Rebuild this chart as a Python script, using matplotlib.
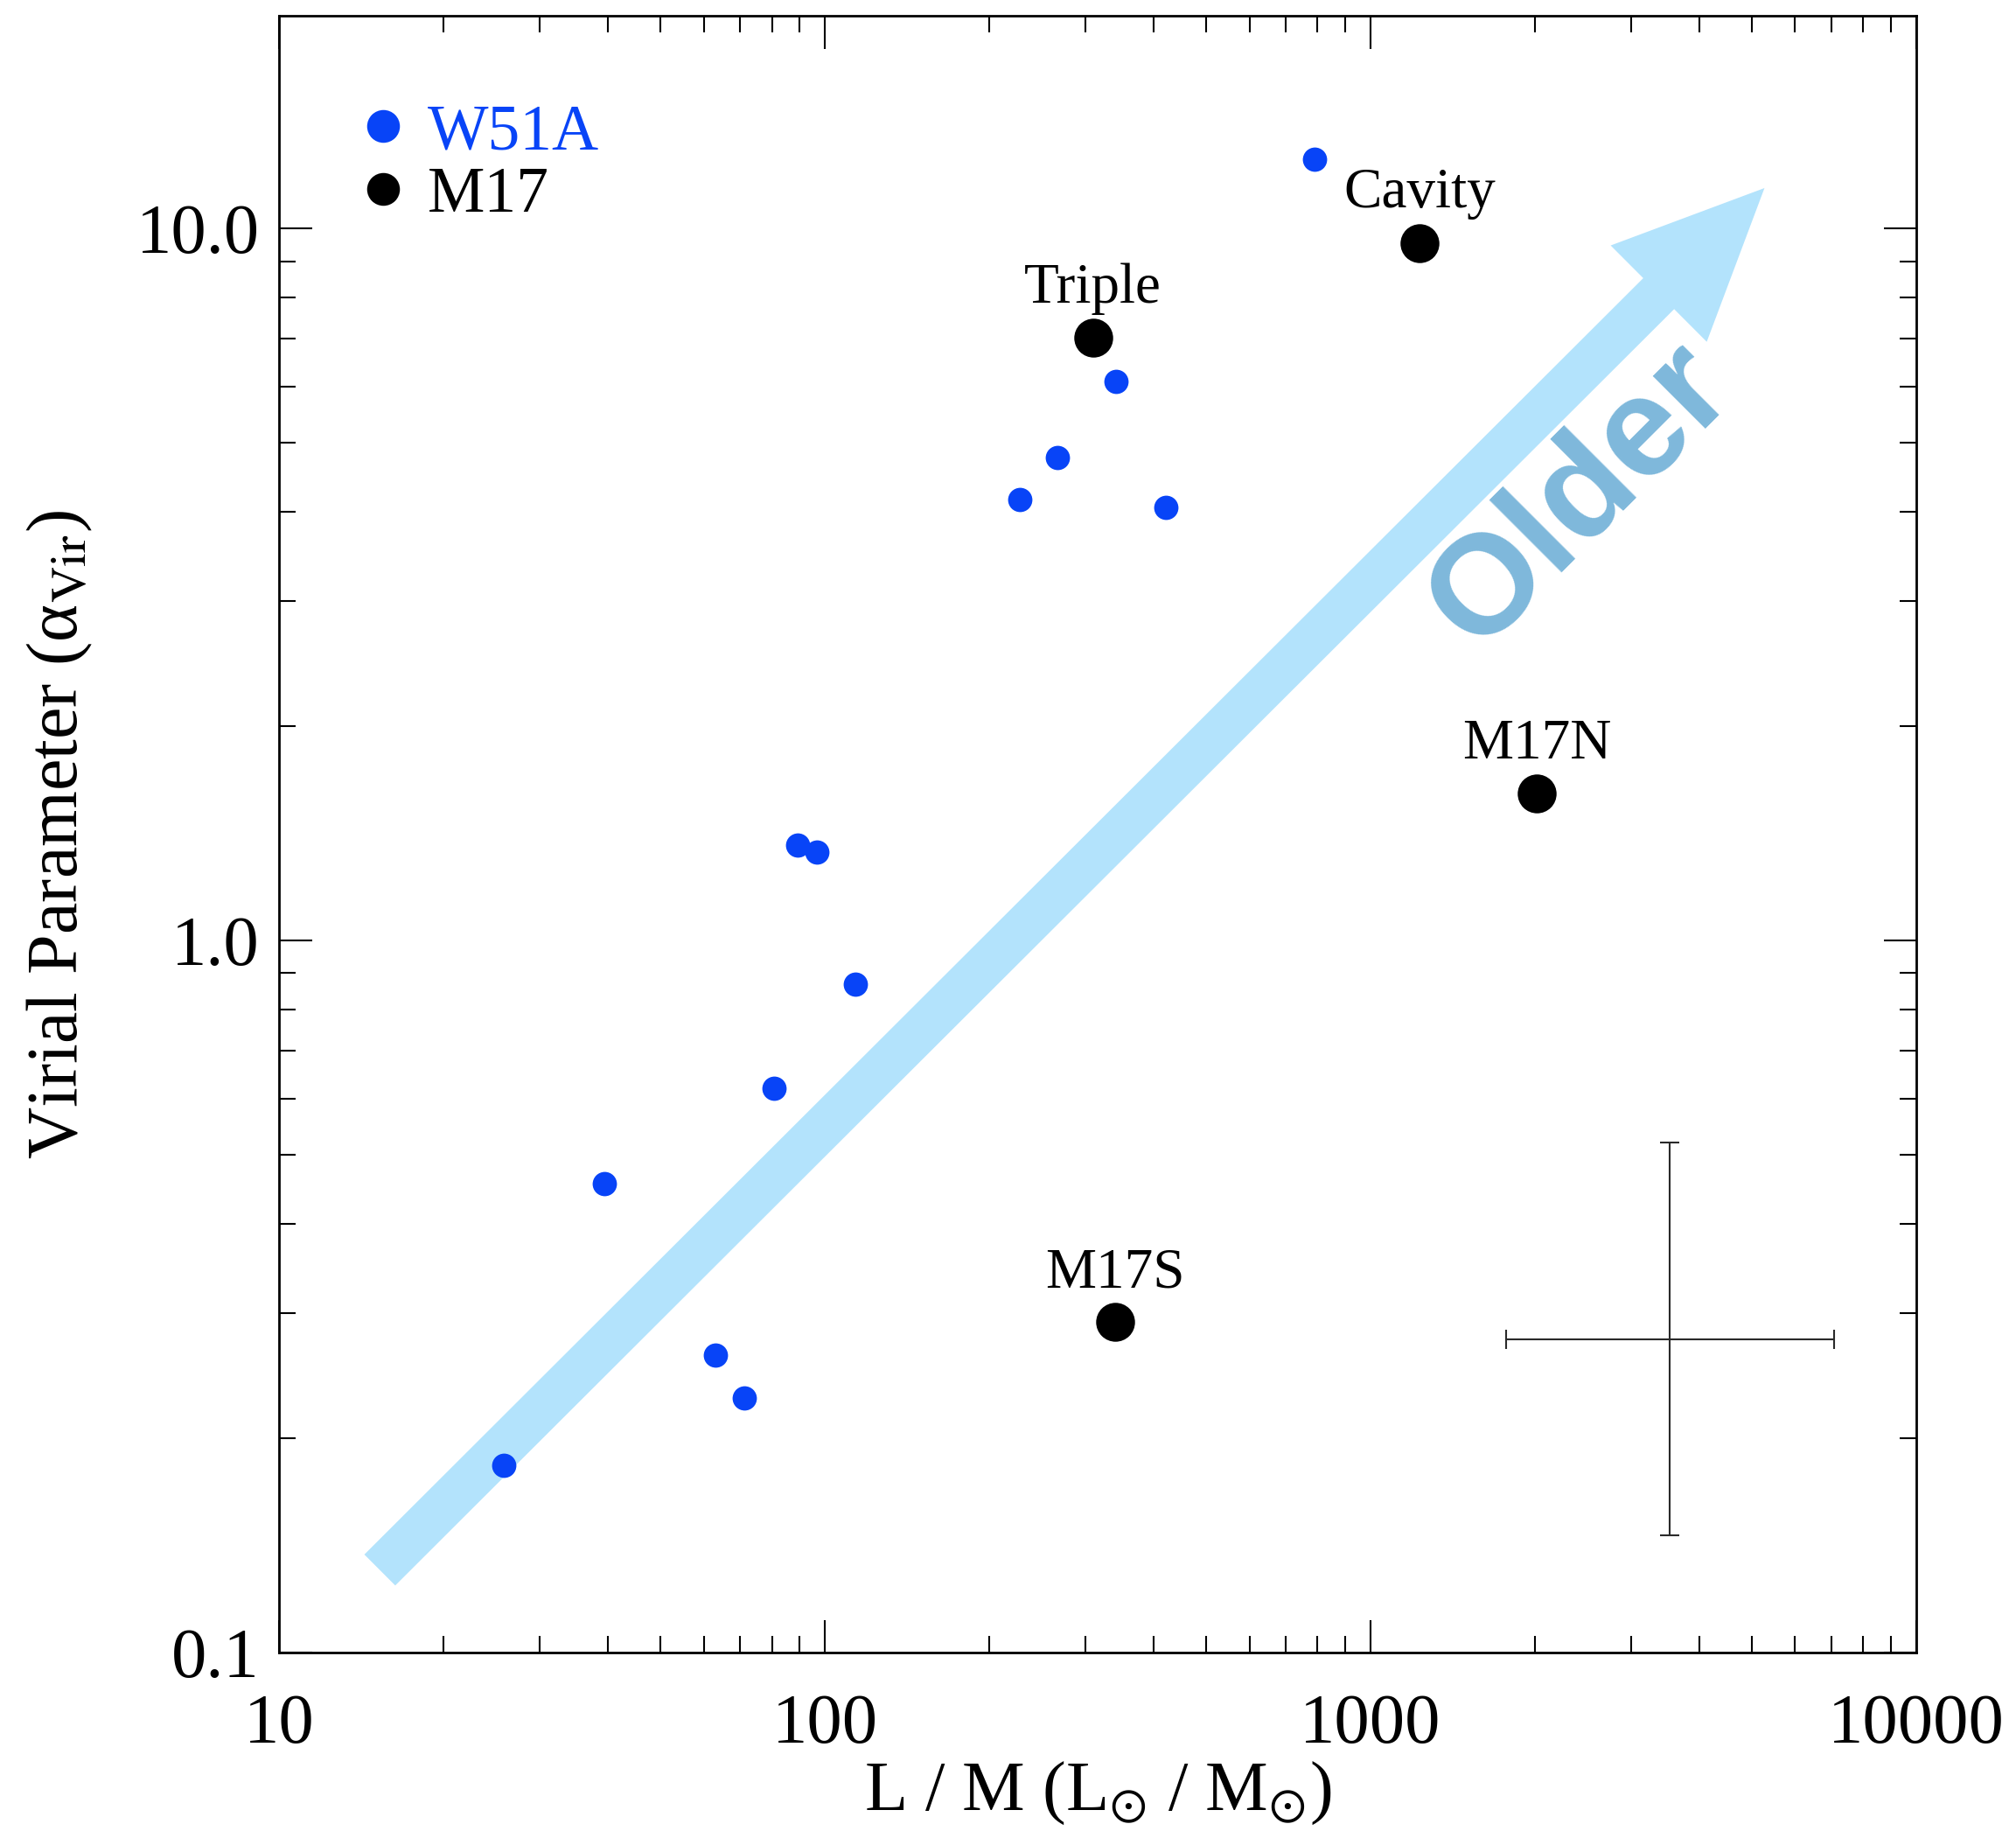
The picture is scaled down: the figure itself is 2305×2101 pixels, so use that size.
import matplotlib
matplotlib.use("Agg")
import matplotlib.pyplot as plt
from matplotlib.ticker import FixedLocator, LogLocator, NullFormatter

plt.rcParams['font.family'] = ['Liberation Serif', 'DejaVu Serif']
plt.rcParams['mathtext.fontset'] = 'stix'

# W51A clumps: L/M and virial parameter
w51_lm = [789, 342, 267, 228, 421, 89.2, 96.6, 113.7, 80.7, 39.4, 63.0, 71.3, 25.8]
w51_alpha = [12.5, 6.1, 4.77, 4.16, 4.06, 1.36, 1.33, 0.868, 0.620, 0.456, 0.262, 0.228, 0.183]

# M17 regions
m17_names = ["Cavity", "Triple", "M17N", "M17S"]
m17_lm = [1232, 310, 2018, 340]
m17_alpha = [9.55, 7.03, 1.61, 0.291]

# typical uncertainty
err_x, err_y = 3535, 0.275
err_xlo, err_xhi = 1770, 7060
err_ylo, err_yhi = 0.146, 0.521

# evolutionary trend arrow (tail -> head)
arrow_start = (15.3, 0.1306)
arrow_end = (5272, 11.4)
older_pos = (2430, 4.21)

blue = '#0844F7'

fig = plt.figure(figsize=(23.05, 21.01), dpi=100)
ax = fig.add_axes([0.1384, 0.1009, 0.8121, 0.8905])
ax.set_xscale('log')
ax.set_yscale('log')
ax.set_xlim(10, 10000)
ax.set_ylim(0.1, 19.9)

ax.annotate('', xy=arrow_end, xytext=arrow_start,
            arrowprops=dict(arrowstyle='simple,head_length=1.23,head_width=1.12,tail_width=0.36',
                            mutation_scale=100, color='#B3E3FC', lw=0,
                            shrinkA=0, shrinkB=0), zorder=1)
ax.text(older_pos[0], older_pos[1], 'Older', rotation=45, ha='center', va='center',
        fontsize=116, fontweight='bold', family='Liberation Sans', color='#7EB8DB', zorder=2)

ax.plot(w51_lm, w51_alpha, 'o', color=blue, ms=20, mec='none', zorder=3, label='W51A')
ax.plot(m17_lm, m17_alpha, 'o', color='black', ms=32, mec='none', zorder=3, label='M17')
for name, x, y in zip(m17_names, m17_lm, m17_alpha):
    ax.annotate(name, (x, y), xytext=(0, 29), textcoords='offset points',
                ha='center', va='baseline', fontsize=47)

ax.errorbar([err_x], [err_y],
            xerr=[[err_x - err_xlo], [err_xhi - err_x]],
            yerr=[[err_y - err_ylo], [err_yhi - err_y]],
            fmt='none', ecolor='#2a2a2a', elinewidth=1.5, capsize=8, capthick=1.5)

leg = ax.legend(loc='upper left', bbox_to_anchor=(0.024, 0.962), frameon=False,
                fontsize=53, handletextpad=0.1, labelspacing=0.06, borderaxespad=0,
                handlelength=1.2, markerscale=1)
for h in leg.legend_handles:
    h.set_markersize(27)
leg.get_texts()[0].set_color(blue)

ax.yaxis.set_major_locator(FixedLocator([0.1, 1.0, 10.0]))
ax.set_yticklabels(['0.1', '1.0', '10.0'])
ax.yaxis.set_minor_locator(LogLocator(base=10, subs=range(2, 10)))
ax.yaxis.set_minor_formatter(NullFormatter())
ax.xaxis.set_major_locator(FixedLocator([10, 100, 1000, 10000]))
ax.set_xticklabels(['10', '100', '1000', '10000'])
ax.xaxis.set_minor_locator(LogLocator(base=10, subs=range(2, 10)))
ax.xaxis.set_minor_formatter(NullFormatter())

ax.tick_params(which='both', direction='in', top=True, right=True, width=1.5)
ax.tick_params(which='major', length=27)
ax.tick_params(which='minor', length=14)
ax.tick_params(axis='x', labelsize=58, pad=34)
ax.tick_params(axis='y', labelsize=58, pad=16)
for s in ax.spines.values():
    s.set_linewidth(2)

ax.set_xlabel(r'L / M (L$_{\odot}$ / M$_{\odot}$)', fontsize=58, labelpad=2)
ax.set_ylabel(r'Virial Parameter (α$_{\rm Vir}$)', fontsize=59, labelpad=34)

fig.savefig('out.png', dpi=100)
